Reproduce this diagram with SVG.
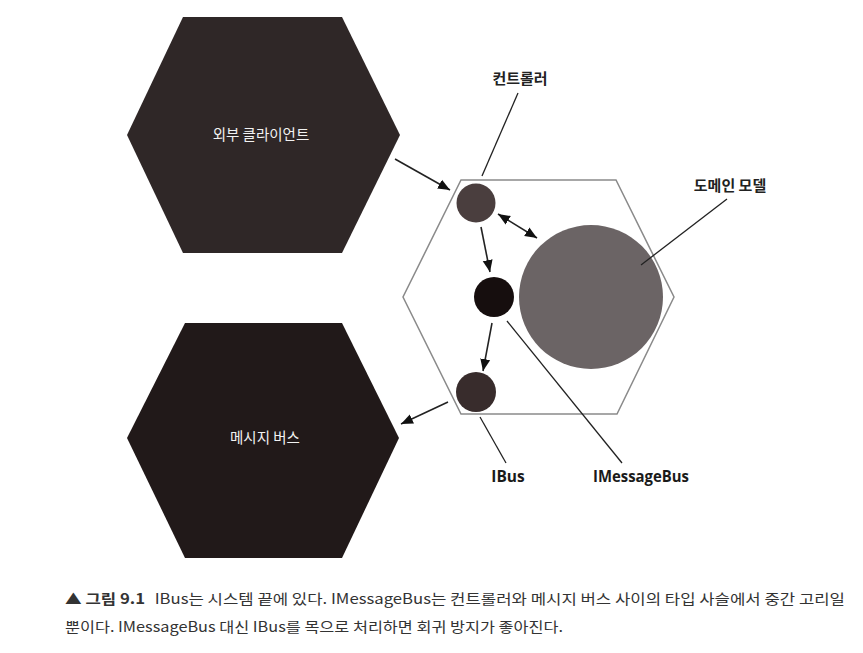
<svg xmlns="http://www.w3.org/2000/svg" width="863" height="653" viewBox="0 0 863 653">
<style>
.hexdark{stroke:none}
.inner{fill:#fff;stroke:#8a8a8a;stroke-width:1.5}
.lbl{font-family:"Noto Sans CJK KR","Noto Sans",sans-serif;font-size:14.5px;fill:#f2f2f2;text-anchor:middle}
.blbl{font-family:"Noto Sans CJK KR","Noto Sans",sans-serif;font-size:15px;font-weight:bold;fill:#222;text-anchor:middle}
.elbl{font-family:"Open Sans","Liberation Sans",sans-serif;font-size:15.5px;font-weight:bold;fill:#1a1a1a;text-anchor:middle}
.arr{stroke:#222;stroke-width:1.6;fill:none}
.lead{stroke:#222;stroke-width:1.3;fill:none}
.cap{font-family:"Noto Sans CJK KR","Noto Sans",sans-serif;font-size:14px;fill:#333}
</style>
<defs>
<marker id="ah" markerUnits="userSpaceOnUse" markerWidth="14" markerHeight="12" refX="12" refY="5" orient="auto-start-reverse" viewBox="0 0 14 10">
<path d="M0,0 L12,5 L0,10 Z" fill="#111"/>
</marker>
</defs>
<rect width="863" height="653" fill="#fff"/>
<g id="external-client">
<polygon class="hexdark" fill="#2f2727" points="183,17 342,17 400,135 342,253 183,253 127,135"/>
<text class="lbl" x="261" y="140">외부 클라이언트</text>
</g>
<g id="message-bus">
<polygon class="hexdark" fill="#211919" points="185,323 342,323 399,438 342,558 185,558 127,438"/>
<text class="lbl" x="265" y="443">메시지 버스</text>
</g>
<g id="app">
<polygon class="inner" points="461,180 616,180 674,297 617,414 461,414 403,297"/>
</g>
<g id="domain-model">
<circle cx="591" cy="297" r="72" fill="#6b6465"/>
<text class="blbl" x="730" y="191">도메인 모델</text>
</g>
<g id="controller">
<circle cx="476" cy="203" r="19.5" fill="#4a3e3e"/>
<text class="blbl" x="520" y="84">컨트롤러</text>
</g>
<g id="imessagebus">
<circle cx="494" cy="297" r="20" fill="#160e0e"/>
<text class="elbl" x="641" y="482" textLength="96" lengthAdjust="spacingAndGlyphs">IMessageBus</text>
</g>
<g id="ibus">
<circle cx="476" cy="392" r="20" fill="#382c2c"/>
<text class="elbl" x="508" y="482">IBus</text>
</g>
<g id="connectors">
<line class="arr" x1="395" y1="159" x2="450" y2="190" marker-end="url(#ah)"/>
<line class="arr" x1="498" y1="214" x2="537" y2="238" marker-start="url(#ah)" marker-end="url(#ah)"/>
<line class="arr" x1="481" y1="227" x2="490" y2="272" marker-end="url(#ah)"/>
<line class="arr" x1="492" y1="323" x2="483" y2="371" marker-end="url(#ah)"/>
<line class="arr" x1="448" y1="402" x2="401" y2="424" marker-end="url(#ah)"/>
<line class="lead" x1="518" y1="93" x2="482" y2="176"/>
<line class="lead" x1="727" y1="199" x2="641" y2="265"/>
<line class="lead" x1="480" y1="417" x2="506" y2="463"/>
<line class="lead" x1="507" y1="321" x2="622" y2="463"/>
</g>
<g id="caption">
<text class="cap" x="65" y="604" textLength="780" lengthAdjust="spacingAndGlyphs"><tspan font-weight="bold">▲ 그림 9.1</tspan><tspan dx="8">IBus는 시스템 끝에 있다. IMessageBus는 컨트롤러와 메시지 버스 사이의 타입 사슬에서 중간 고리일</tspan></text>
<text class="cap" x="65" y="632" textLength="498" lengthAdjust="spacingAndGlyphs">뿐이다. IMessageBus 대신 IBus를 목으로 처리하면 회귀 방지가 좋아진다.</text>
</g>
</svg>
